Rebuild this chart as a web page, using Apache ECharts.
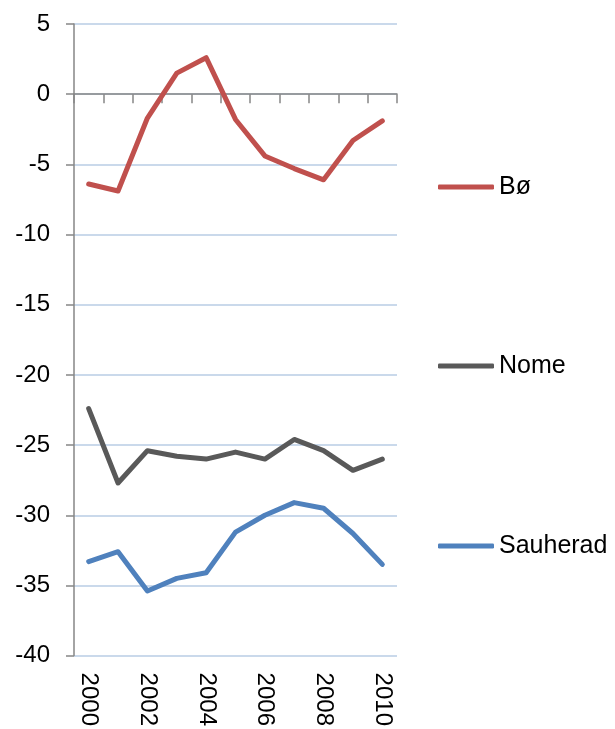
<!DOCTYPE html>
<html>
<head>
<meta charset="utf-8">
<script src="https://cdn.jsdelivr.net/npm/echarts@6/dist/echarts.min.js"></script>
<style>
  html, body { margin: 0; padding: 0; background: #fff; }
  #chart { width: 615px; height: 729px; }
</style>
</head>
<body>
<div id="chart"></div>
<script>
const years = ['2000', '2001', '2002', '2003', '2004', '2005', '2006', '2007', '2008', '2009', '2010'];
const seriesNames = ['Bø', 'Nome', 'Sauherad'];
const boValues = [-6.4, -6.9, -1.7, 1.5, 2.6, -1.8, -4.4, -5.3, -6.1, -3.3, -1.9];
const nomeValues = [-22.4, -27.7, -25.4, -25.8, -26.0, -25.5, -26.0, -24.6, -25.4, -26.8, -26.0];
const sauheradValues = [-33.3, -32.6, -35.4, -34.5, -34.1, -31.2, -30.0, -29.1, -29.5, -31.3, -33.5];

const colors = ['#c0504d', '#595959', '#4f81bd'];
const font = 'Liberation Sans, Arial, sans-serif';

const chart = echarts.init(document.getElementById('chart'));

// one legend per name so each sits at its own height
const legendTops = [174, 353, 533];
const legends = seriesNames.map((name, i) => ({
  data: [name],
  left: 438,
  top: legendTops[i],
  padding: 0,
  orient: 'vertical',
  icon: 'roundRect',
  itemWidth: 56,
  itemHeight: 5,
  textStyle: { fontFamily: font, fontSize: 25, color: '#000', lineHeight: 26 },
  selectedMode: false
}));

const values = [boValues, nomeValues, sauheradValues];

chart.setOption({
  animation: false,
  backgroundColor: '#fff',
  color: colors,
  grid: { left: 74, right: 218, top: 24, bottom: 73 },
  legend: legends,
  xAxis: [
    {
      type: 'category',
      data: years,
      boundaryGap: true,
      axisLine: { onZero: true, lineStyle: { color: '#868686', width: 1.5 } },
      axisTick: { show: true, length: 9, interval: 0, lineStyle: { color: '#868686', width: 1.5 } },
      axisLabel: { show: false },
      splitLine: { show: false }
    },
    {
      type: 'category',
      data: years,
      position: 'bottom',
      boundaryGap: true,
      axisLine: { show: false, onZero: false },
      axisTick: { show: false },
      axisLabel: {
        interval: 1,
        rotate: -90,
        margin: 17,
        fontFamily: font,
        fontSize: 24,
        color: '#000'
      },
      splitLine: { show: false }
    }
  ],
  yAxis: {
    type: 'value',
    min: -40,
    max: 5,
    interval: 5,
    axisLine: { show: true, lineStyle: { color: '#868686', width: 1.5 } },
    axisTick: { show: true, length: 8, lineStyle: { color: '#868686', width: 1.5 } },
    axisLabel: { margin: 24, fontFamily: font, fontSize: 24, color: '#000' },
    splitLine: { show: true, lineStyle: { color: '#b9cde5', width: 1.5 } }
  },
  series: seriesNames.map((name, i) => ({
    name: name,
    type: 'line',
    xAxisIndex: 0,
    data: values[i],
    symbol: 'none',
    lineStyle: { width: 5, color: colors[i], cap: 'round', join: 'round' },
    itemStyle: { color: colors[i] }
  }))
});
</script>
</body>
</html>
